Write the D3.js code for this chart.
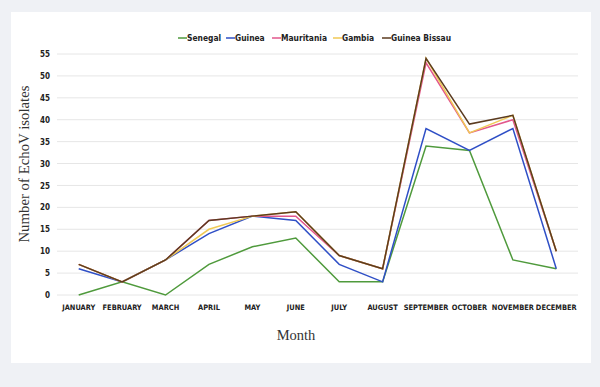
<!DOCTYPE html>
<html>
<head>
  <meta charset="utf-8">
  <title>EchoV isolates by month</title>
  <script src="https://cdn.jsdelivr.net/npm/d3@7"></script>
  <style>
    body { margin: 0; background: #eff1f5; }
    svg { display: block; }
    .tick text, .legend text { font-family: "DejaVu Sans Condensed", "DejaVu Sans", sans-serif; font-weight: bold; fill: #222; }
  </style>
</head>
<body>
  <svg id="chart" width="600" height="387"></svg>
  <script type="text/javascript">
    var months = ["JANUARY", "FEBRUARY", "MARCH", "APRIL", "MAY", "JUNE", "JULY", "AUGUST", "SEPTEMBER", "OCTOBER", "NOVEMBER", "DECEMBER"];
    var yTicks = [0, 5, 10, 15, 20, 25, 30, 35, 40, 45, 50, 55];

    var senegal      = [0, 3, 0, 7, 11, 13, 3, 3, 34, 33, 8, 6];
    var guinea       = [6, 3, 8, 14, 18, 17, 7, 3, 38, 33, 38, 6];
    var mauritania   = [7, 3, 8, 17, 18, 18, 9, 6, 53, 37, 40, 10];
    var gambia       = [7, 3, 8, 15, 18, 19, 9, 6, 54, 37, 41, 10];
    var guineaBissau = [7, 3, 8, 17, 18, 19, 9, 6, 54, 39, 41, 10];

    var seriesNames = ["Senegal", "Guinea", "Mauritania", "Gambia", "Guinea Bissau"];
    var seriesValues = [senegal, guinea, mauritania, gambia, guineaBissau];
    var colors = ["#4f9a3c", "#2f4fc6", "#e2578c", "#f0c955", "#5b3b1f"];

    var svg = d3.select("#chart");

    // white panel
    svg.append("rect").attr("x", 11).attr("y", 12).attr("width", 580).attr("height", 351).attr("fill", "#fff");

    var x = d3.scaleBand().domain(months).range([57, 578]);
    var y = d3.scaleLinear().domain([0, 55]).range([295, 54]);

    // gridlines
    svg.append("g").selectAll("line").data(yTicks).enter().append("line")
      .attr("x1", 57).attr("x2", 578)
      .attr("y1", function(d) { return y(d); }).attr("y2", function(d) { return y(d); })
      .attr("stroke", "#e6e6e6").attr("stroke-width", 1);

    var yAxis = svg.append("g").attr("transform", "translate(50,0)")
      .call(d3.axisLeft(y).tickValues(yTicks).tickSize(0).tickPadding(0));
    yAxis.select(".domain").remove();
    yAxis.selectAll("text").attr("font-size", 8);

    var xAxis = svg.append("g").attr("transform", "translate(0,302)")
      .call(d3.axisBottom(x).tickSize(0).tickPadding(3));
    xAxis.select(".domain").remove();
    xAxis.selectAll("text").attr("font-size", 7.4);

    var line = d3.line()
      .x(function(d, i) { return x(months[i]) + x.bandwidth() / 2; })
      .y(function(d) { return y(d); });

    svg.append("g").selectAll("path").data(seriesValues).enter().append("path")
      .attr("d", line)
      .attr("fill", "none")
      .attr("stroke", function(d, i) { return colors[i]; })
      .attr("stroke-width", 1.5)
      .attr("stroke-linejoin", "miter");

    // legend
    var legendX = [178, 226, 272, 333, 382];
    var legend = svg.append("g").attr("class", "legend").selectAll("g").data(seriesNames).enter().append("g")
      .attr("transform", function(d, i) { return "translate(" + legendX[i] + ",38)"; });
    legend.append("line").attr("x1", 0).attr("x2", 9).attr("y1", 0).attr("y2", 0)
      .attr("stroke", function(d, i) { return colors[i]; }).attr("stroke-width", 1.5);
    legend.append("text").attr("x", 9).attr("y", 3).attr("font-size", 8.4).text(function(d) { return d; });

    // axis titles
    svg.append("text")
      .attr("transform", "translate(29,164) rotate(-90)")
      .attr("text-anchor", "middle")
      .attr("font-family", "Liberation Serif, Times New Roman, serif")
      .attr("font-size", 14.8).attr("fill", "#333")
      .text("Number of EchoV isolates");

    svg.append("text")
      .attr("x", 296).attr("y", 340)
      .attr("text-anchor", "middle")
      .attr("font-family", "Liberation Serif, Times New Roman, serif")
      .attr("font-size", 14.5).attr("fill", "#333")
      .text("Month");
  </script>
</body>
</html>
